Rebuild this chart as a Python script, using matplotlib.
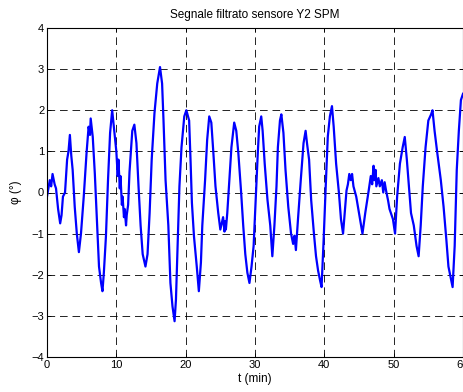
# Segnale filtrato sensore Y2 SPM - MATLAB style replot
import numpy as np
import matplotlib
matplotlib.use('Agg')
from matplotlib import pyplot as plt

# time (min) and angle (deg)
t_min = [0.0, 0.2, 0.4, 0.6, 0.8, 1.1, 1.3, 1.6, 1.9, 2.1, 2.3, 2.6, 2.9, 3.1, 3.3, 3.5,
         3.7, 4.0, 4.3, 4.6, 4.9,
         5.3, 5.7, 6.0, 6.2, 6.3, 6.5, 6.6, 6.9, 7.2, 7.5, 7.8, 8.0, 8.2, 8.5, 8.8, 9.1, 9.4,
         9.7, 10.0, 10.2, 10.3, 10.5, 10.6, 10.8, 10.9, 11.1, 11.2, 11.4, 11.5, 11.7,
         11.9, 12.3, 12.6, 12.9, 13.2,
         13.5, 13.8, 14.2, 14.5, 14.8, 15.1, 15.5, 15.9, 16.3, 16.6, 16.8, 17.1, 17.5,
         17.8, 18.1, 18.4, 18.6, 18.8, 19.1, 19.4, 19.8, 20.1, 20.5, 20.7, 20.9, 21.2,
         21.6, 21.9, 22.2, 22.4, 22.8, 23.1, 23.4, 23.7, 24.0, 24.3, 24.7, 25.0, 25.4,
         25.6, 25.7, 25.8, 26.0, 26.3, 26.6, 27.0, 27.3, 27.6, 28.0, 28.3, 28.6, 28.9,
         29.2, 29.5, 29.8, 30.05, 30.4, 30.6, 30.9, 31.1, 31.4, 31.8, 32.2, 32.5, 32.8,
         33.1, 33.3, 33.6, 33.8, 34.1, 34.4, 34.8, 35.2, 35.5, 35.7, 35.9, 36.2, 36.6,
         37.0, 37.3, 37.5, 37.8, 38.1, 38.5, 38.8, 39.1, 39.4, 39.6, 39.9, 40.2, 40.5,
         40.8, 41.1, 41.35, 41.7, 42.1, 42.4, 42.7, 43.0, 43.2, 43.4, 43.6, 43.8, 44.0,
         44.2, 44.6, 45.1, 45.5, 45.9, 46.4, 46.7, 46.9, 47.1, 47.2, 47.4, 47.5, 47.8,
         48.0, 48.3, 48.5, 48.7, 48.9, 49.2, 49.4, 49.9, 50.2, 50.5, 50.9, 51.3, 51.6,
         51.9, 52.2, 52.5, 52.9, 53.3, 53.6, 53.9, 54.2, 54.6, 55.0, 55.4, 55.6, 55.9,
         56.3, 56.8, 57.2, 57.6, 57.9, 58.2, 58.5, 58.8, 59.1, 59.4, 59.7, 60.0]
phi = [-0.1, 0.1, 0.3, 0.15, 0.45, 0.2, 0.1, -0.4, -0.75, -0.55, -0.1, 0.0, 0.8, 1.0, 1.4, 0.9,
       0.55, -0.35, -1.0, -1.45, -1.0,
       -0.1, 0.95, 1.6, 1.4, 1.8, 1.5, 1.35, 0.45, -0.65, -1.8, -2.2, -2.4, -1.95, -1.07,
       0.3, 1.45, 2.0,
       1.5, 1.0, 0.4, 0.8, 0.1, 0.4, -0.3, -0.1, -0.6, -0.4, -0.8, -0.55, -0.3,
       0.5, 1.5, 1.65, 1.2, 0.15,
       -0.8, -1.5, -1.8, -1.5, -0.5, 0.8, 1.93, 2.65, 3.05, 2.65, 1.77, 0.3, -0.8,
       -2.2, -2.77, -3.13, -2.6, -1.47, 0.15, 1.1, 1.85, 2.0, 1.75, 0.8, -0.25, -1.07,
       -1.8, -2.4, -1.7, -0.8, 0.3, 1.28, 1.85, 1.7, 0.95, 0.15, -0.5, -0.9, -0.6,
       -0.95, -0.7, -0.9, -0.5, 0.3, 1.1, 1.7, 1.5, 0.95, 0.0, -0.8, -1.5, -1.95,
       -2.2, -1.8, -1.3, -0.35, 0.95, 1.6, 1.85, 1.5, 0.7, -0.18, -0.8, -1.55, -0.8,
       0.15, 1.1, 1.75, 1.9, 1.45, 0.55, -0.35, -1.0, -1.25, -1.05, -1.4, -0.65, 0.3,
       1.2, 1.5, 1.2, 0.8, -0.18, -1.0, -1.55, -1.9, -2.15, -2.3, -1.15, 0.15, 1.36,
       1.85, 2.1, 1.6, 0.7, 0.0, -0.65, -1.0, -0.35, 0.05, 0.2, 0.45, 0.3, 0.45,
       0.15, -0.1, -0.6, -1.0, -0.5, 0.05, 0.4, 0.2, 0.65, 0.3, 0.55, 0.15, 0.35,
       0.15, 0.3, 0.0, 0.25, 0.05, -0.2, -0.4, -0.65, -1.0, -0.1, 0.7, 1.1, 1.35,
       0.8, 0.15, -0.5, -0.8, -1.3, -1.55, -0.8, 0.15, 1.1, 1.75, 1.9, 2.0, 1.5,
       0.95, 0.3, -0.35, -1.15, -1.8, -2.05, -2.3, -1.3, 0.55, 1.5, 2.25, 2.4]

plt.rcParams['font.family'] = ['Liberation Sans', 'DejaVu Sans']
plt.rcParams['font.size'] = 8
plt.rcParams['lines.scale_dashes'] = False

fig = plt.figure(figsize=(4.64, 3.92), dpi=100)
ax = fig.add_axes([47/464, 1 - 357/392, 416/464, 329/392])

ax.plot(t_min, phi, color=(0, 0, 1), linewidth=1.6)

ax.set_xlim(0, 60)
ax.set_ylim(-4, 4)
ax.set_xticks(np.arange(0, 61, 10))
ax.set_yticks(np.arange(-4, 5, 1))
ax.tick_params(direction='in', top=True, right=True, length=3, width=0.6, pad=2)
ax.grid(True, color='k', linestyle=(0, (5.5, 3.5)), linewidth=0.6)
for s in ax.spines.values():
    s.set_linewidth(0.8)

ax.set_title('Segnale filtrato sensore Y2 SPM', fontsize=8.5, pad=7)
ax.set_xlabel('t (min)', fontsize=8.5, labelpad=2)
ax.set_ylabel('φ (°)', fontsize=8.5, labelpad=7)

plt.savefig('out.png', dpi=100)
